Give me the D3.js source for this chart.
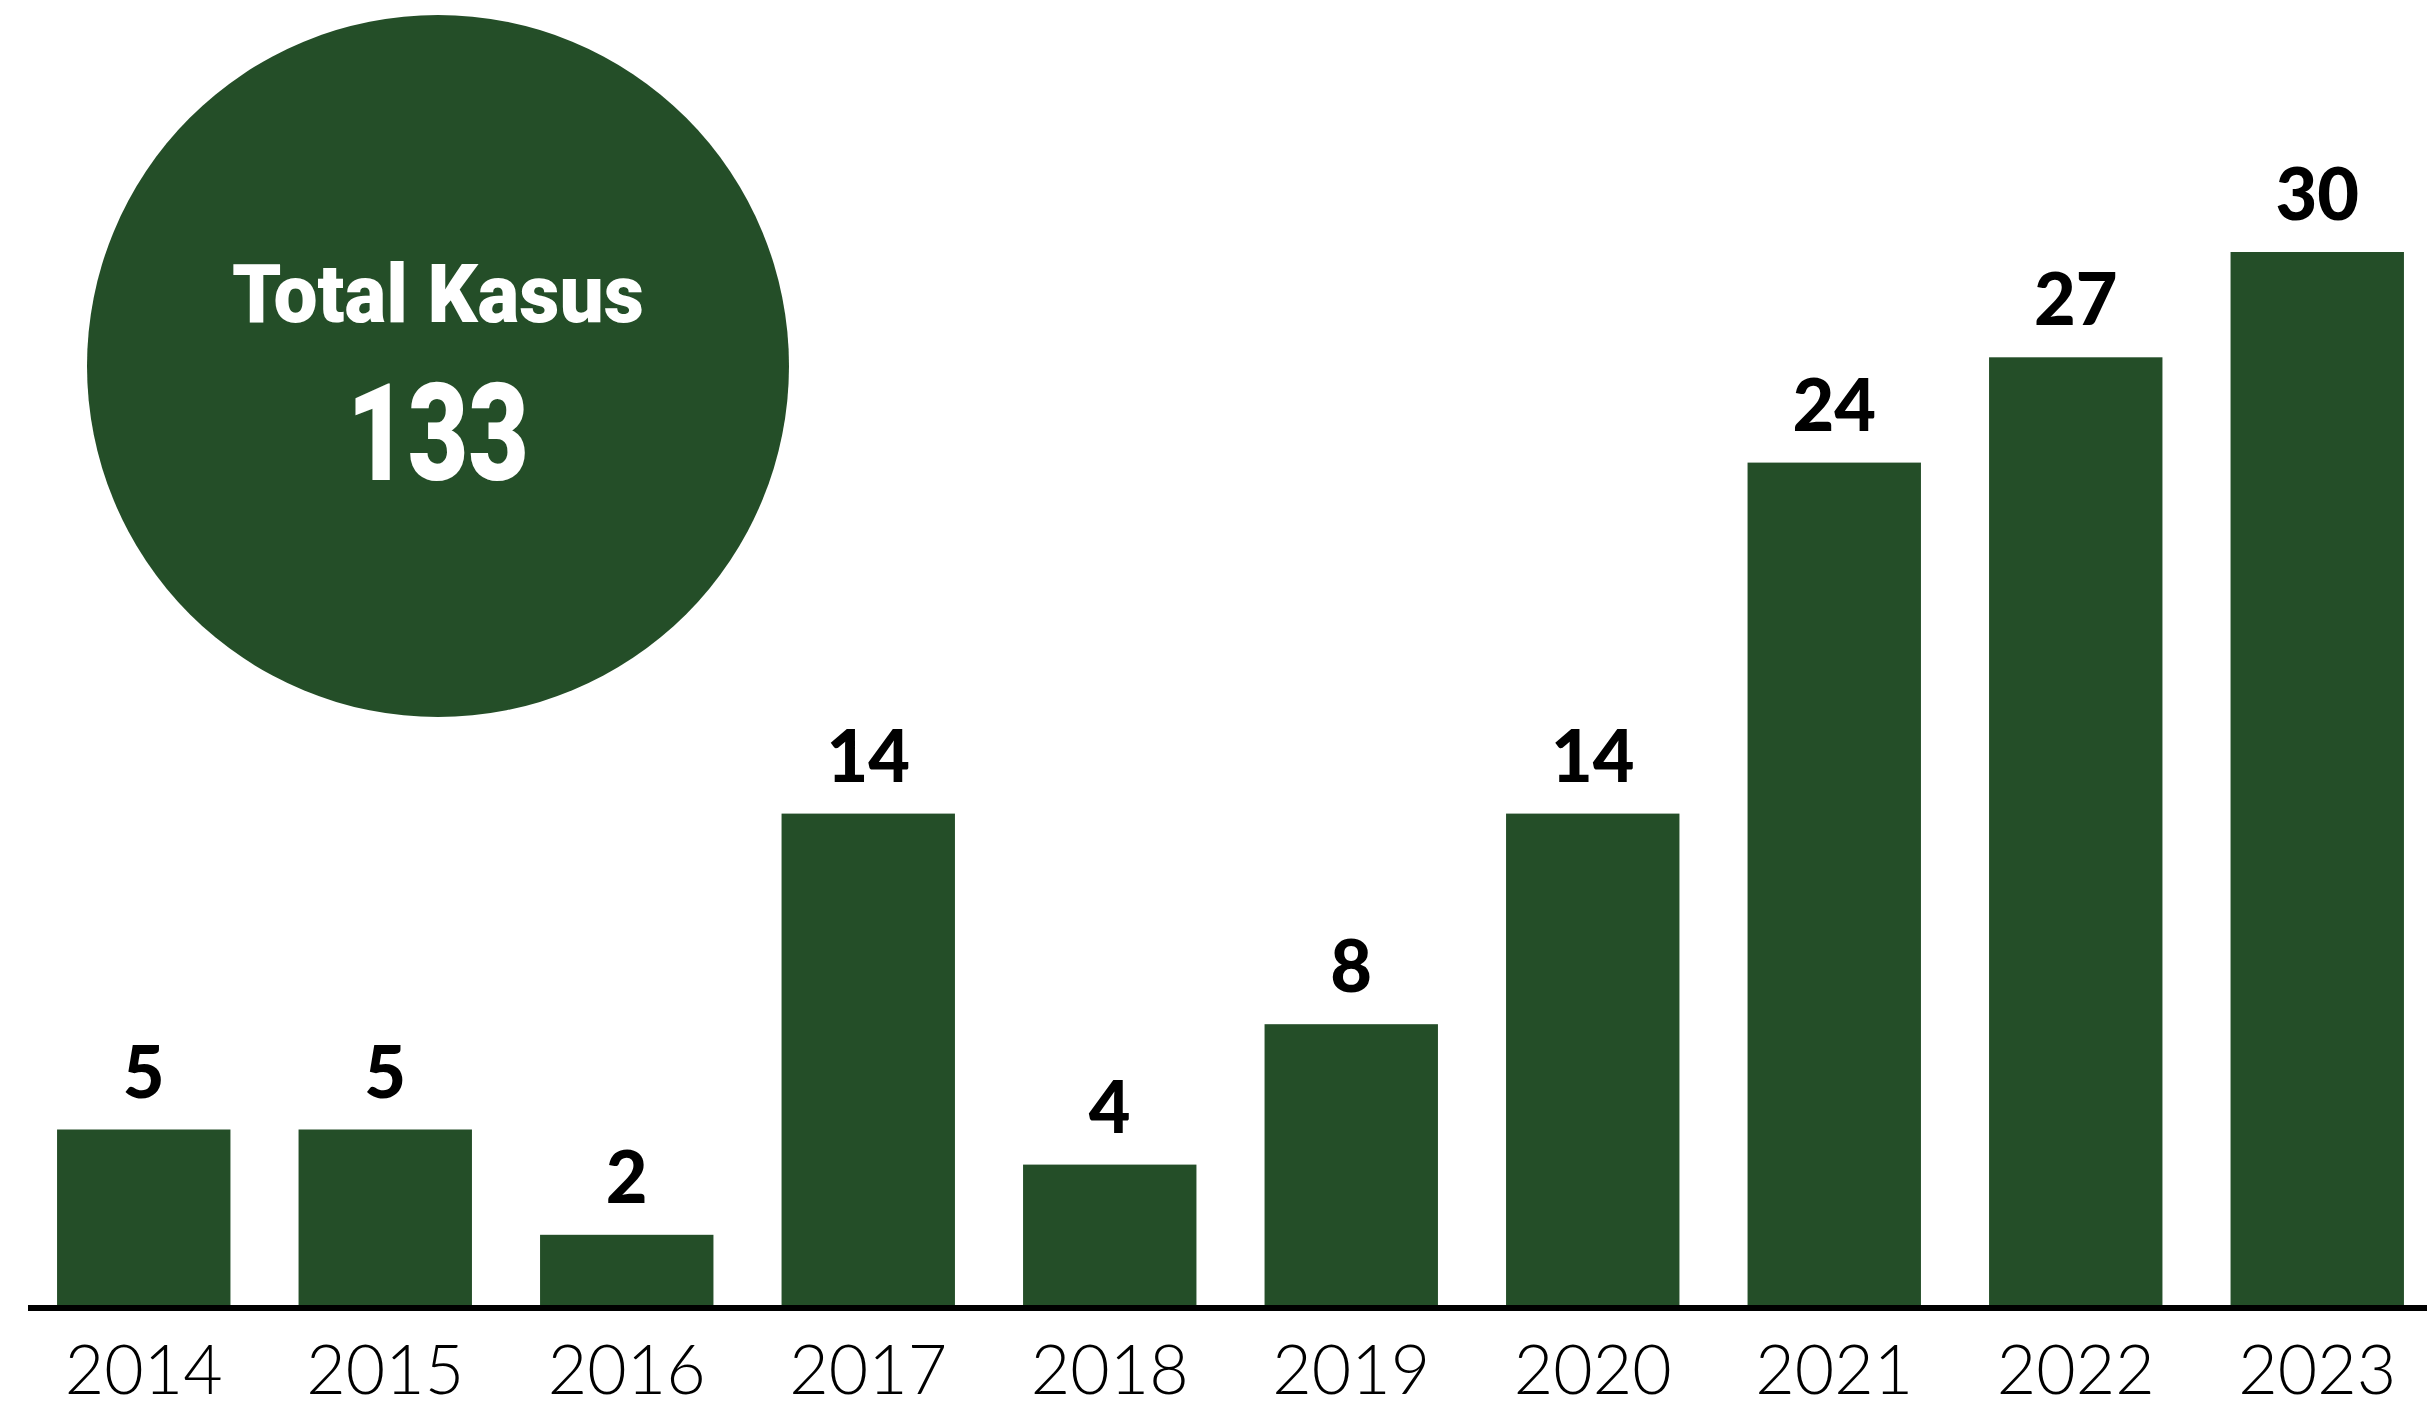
<!DOCTYPE html>
<html>
<head>
<meta charset="utf-8">
<script src="https://cdn.jsdelivr.net/npm/d3@7"></script>
<style>
  body { margin: 0; background: #fff; }
  svg { display: block; }
</style>
</head>
<body>
<div id="chart"></div>
<script>
// data
const years = ["2014", "2015", "2016", "2017", "2018", "2019", "2020", "2021", "2022", "2023"];
const cases = [5, 5, 2, 14, 4, 8, 14, 24, 27, 30];
const totalLabel = "Total Kasus";
const totalValue = 133;

const width = 2427;
const height = 1407;
const green = "#244e28";

const data = years.map((y, i) => ({ year: y, value: cases[i] }));

const svg = d3.select("#chart")
    .append("svg")
    .attr("width", width)
    .attr("height", height);

const x = d3.scaleBand()
    .domain(years)
    .range([23, 2438])
    .paddingInner(0.282)
    .paddingOuter(0.141);

const y = d3.scaleLinear()
    .domain([0, 30])
    .range([1305, 252]);

// bars
svg.append("g")
    .selectAll("rect")
    .data(data)
    .join("rect")
    .attr("x", d => x(d.year))
    .attr("y", d => y(d.value))
    .attr("width", x.bandwidth())
    .attr("height", d => y(0) - y(d.value))
    .attr("fill", green);

// baseline
svg.append("line")
    .attr("x1", 28)
    .attr("x2", width)
    .attr("y1", y(0) + 3)
    .attr("y2", y(0) + 3)
    .attr("stroke", "#000")
    .attr("stroke-width", 6);

// value labels
svg.append("g")
    .selectAll("text")
    .data(data)
    .join("text")
    .attr("x", d => x(d.year) + x.bandwidth() / 2)
    .attr("y", d => y(d.value) - 32)
    .attr("text-anchor", "middle")
    .attr("font-family", "Lato, 'Open Sans', sans-serif")
    .attr("font-weight", 900)
    .attr("font-size", 72)
    .attr("fill", "#000")
    .text(d => d.value);

// year labels
svg.append("g")
    .selectAll("text")
    .data(data)
    .join("text")
    .attr("x", d => x(d.year) + x.bandwidth() / 2)
    .attr("y", 1394)
    .attr("text-anchor", "middle")
    .attr("font-family", "Lato, 'Open Sans', sans-serif")
    .attr("font-weight", 300)
    .attr("font-size", 68)
    .attr("fill", "#000")
    .text(d => d.year);

// total bubble
const bubble = svg.append("g");
bubble.append("circle")
    .attr("cx", 438)
    .attr("cy", 366)
    .attr("r", 351)
    .attr("fill", green);

bubble.append("text")
    .attr("x", 438)
    .attr("y", 322)
    .attr("text-anchor", "middle")
    .attr("font-family", "Roboto, Lato, sans-serif")
    .attr("font-weight", 900)
    .attr("font-size", 82)
    .attr("textLength", 412)
    .attr("lengthAdjust", "spacingAndGlyphs")
    .attr("fill", "#fff")
    .text(totalLabel);

bubble.append("text")
    .attr("x", 438)
    .attr("y", 480)
    .attr("text-anchor", "middle")
    .attr("font-family", "Roboto, Lato, sans-serif")
    .attr("font-weight", 900)
    .attr("font-size", 135)
    .attr("textLength", 182)
    .attr("lengthAdjust", "spacingAndGlyphs")
    .attr("fill", "#fff")
    .text(totalValue);
</script>
</body>
</html>
